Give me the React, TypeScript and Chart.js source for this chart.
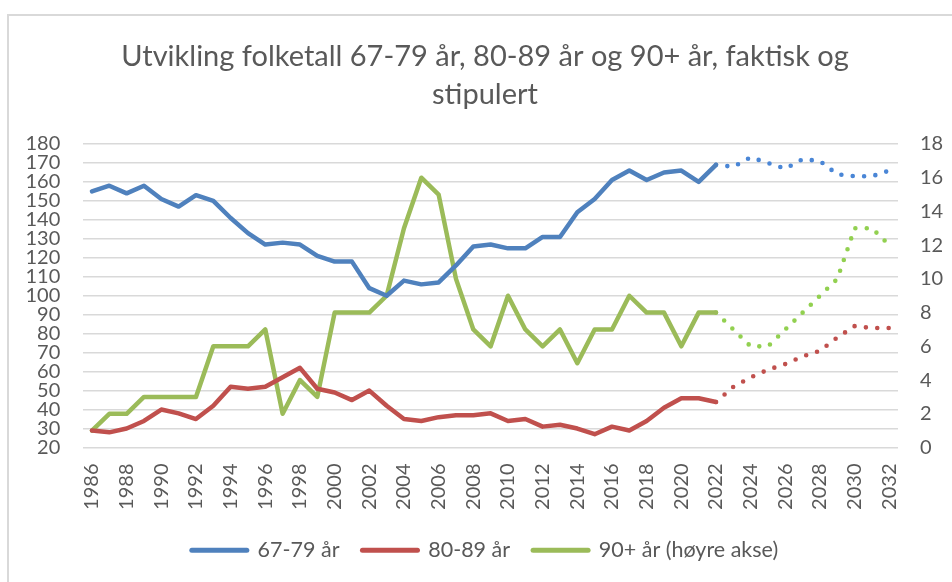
import React, { useEffect, useRef } from "react";
import { Chart, registerables } from "chart.js";

Chart.register(...registerables);

const years = [
  "1986", "1987", "1988", "1989", "1990", "1991", "1992", "1993", "1994", "1995",
  "1996", "1997", "1998", "1999", "2000", "2001", "2002", "2003", "2004", "2005",
  "2006", "2007", "2008", "2009", "2010", "2011", "2012", "2013", "2014", "2015",
  "2016", "2017", "2018", "2019", "2020", "2021", "2022", "2023", "2024", "2025",
  "2026", "2027", "2028", "2029", "2030", "2031", "2032",
];

// Actual values 1986-2022
const age6779 = [
  155, 158, 154, 158, 151, 147, 153, 150, 141, 133,
  127, 128, 127, 121, 118, 118, 104, 100, 108, 106,
  107, 116, 126, 127, 125, 125, 131, 131, 144, 151,
  161, 166, 161, 165, 166, 160, 169,
];
const age8089 = [
  29, 28, 30, 34, 40, 38, 35, 42, 52, 51,
  52, 57, 62, 51, 49, 45, 50, 42, 35, 34,
  36, 37, 37, 38, 34, 35, 31, 32, 30, 27,
  31, 29, 34, 41, 46, 46, 44,
];
const age90 = [
  1, 2, 2, 3, 3, 3, 3, 6, 6, 6,
  7, 2, 4, 3, 8, 8, 8, 9, 13, 16,
  15, 10, 7, 6, 9, 7, 6, 7, 5, 7,
  7, 9, 8, 8, 6, 8, 8,
];

// Projected values 2022-2032
const age6779Proj = [169, 168, 173, 170, 167, 172, 171, 164, 163, 163, 166];
const age8089Proj = [44, 52, 57, 61, 64, 68, 71, 78, 84, 83, 83];
const age90Proj = [8, 7, 6, 6, 7, 8, 9, 10, 13, 13, 12];

const seriesNames = ["67-79 år", "80-89 år", "90+ år (høyre akse)"];
const titleLines = [
  "Utvikling folketall 67-79 år, 80-89 år og 90+ år, faktisk og",
  "stipulert",
];

const FONT = "Lato, 'Open Sans', sans-serif";
const TEXT = "#595959";

export default function App() {
  const ref = useRef<HTMLCanvasElement | null>(null);

  useEffect(() => {
    document.body.style.margin = "0";
    const n = years.length;
    const actual = (arr: number[]) =>
      years.map((_, i) => (i < arr.length ? arr[i] : null));
    const proj = (arr: number[]) => {
      const start = n - arr.length;
      return years.map((_, i) => (i >= start ? arr[i - start] : null));
    };

    const solid = (label: string, data: any[], color: string, axis: string) => ({
      label,
      data,
      borderColor: color,
      backgroundColor: color,
      borderWidth: 4.5,
      pointRadius: 0,
      pointHoverRadius: 0,
      borderCapStyle: "round",
      borderJoinStyle: "round",
      tension: 0,
      yAxisID: axis,
      spanGaps: false,
    });
    const dotted = (label: string, data: any[], color: string, axis: string) => ({
      ...solid(label, data, color, axis),
      borderDash: [0, 11.4],
      borderWidth: 4.6,
    });

    const chart = new Chart(ref.current as HTMLCanvasElement, {
      type: "line",
      data: {
        labels: years,
        datasets: [
          solid(seriesNames[0], actual(age6779), "#4f81bd", "y"),
          solid(seriesNames[1], actual(age8089), "#c0504d", "y"),
          solid(seriesNames[2], actual(age90), "#9bbb59", "y1"),
          dotted("proj1", proj(age6779Proj), "#4a86d6", "y"),
          dotted("proj2", proj(age8089Proj), "#c0504d", "y"),
          dotted("proj3", proj(age90Proj), "#92d050", "y1"),
        ] as any,
      },
      options: {
        responsive: false,
        animation: false,
        layout: { padding: { left: 18, right: 0, top: 0, bottom: 11 } },
        plugins: {
          tooltip: { enabled: false },
          title: {
            display: true,
            text: titleLines,
            color: TEXT,
            font: { family: FONT, size: 29, weight: "normal", lineHeight: 38 / 29 },
            padding: { top: 38, bottom: 30 },
          },
          legend: {
            display: true,
            position: "bottom",
            labels: {
              color: TEXT,
              font: { family: FONT, size: 21.5 },
              usePointStyle: true,
              pointStyleWidth: 55,
              padding: 23,
              filter: (item: any) => item.datasetIndex < 3,
              generateLabels: (c: any) =>
                c.data.datasets.map((ds: any, i: number) => ({
                  text: ds.label,
                  fillStyle: ds.borderColor,
                  strokeStyle: ds.borderColor,
                  lineWidth: 5,
                  lineCap: "round",
                  pointStyle: "line",
                  hidden: false,
                  datasetIndex: i,
                  fontColor: TEXT,
                })),
            },
          },
        },
        scales: {
          x: {
            type: "category",
            offset: true,
            grid: { display: false, drawTicks: false },
            border: { display: false },
            afterFit: (s: any) => {
              s.height = 69;
            },
            ticks: {
              autoSkip: false,
              minRotation: 90,
              maxRotation: 90,
              padding: 16,
              color: TEXT,
              font: { family: FONT, size: 20 },
              callback: (_v: any, i: number) => (i % 2 === 0 ? years[i] : ""),
            },
          },
          y: {
            position: "left",
            min: 20,
            max: 180,
            afterFit: (s: any) => {
              s.width = 65.3;
            },
            grid: { color: "#d9d9d9", lineWidth: 1.5, drawTicks: false },
            border: { display: false },
            ticks: {
              stepSize: 10,
              autoSkip: false,
              padding: 23,
              color: TEXT,
              font: { family: FONT, size: 20 },
            },
          },
          y1: {
            position: "right",
            min: 0,
            max: 18,
            afterFit: (s: any) => {
              s.width = 54;
            },
            grid: { display: false, drawTicks: false },
            border: { display: false },
            ticks: {
              stepSize: 2,
              autoSkip: false,
              padding: 22,
              color: TEXT,
              font: { family: FONT, size: 20 },
            },
          },
        },
      } as any,
    });
    return () => chart.destroy();
  }, []);

  return (
    <div
      style={{
        position: "relative",
        width: 952,
        height: 582,
        overflow: "hidden",
        background: "#ffffff",
      }}
    >
      <div
        style={{
          position: "absolute",
          left: 7,
          top: 14,
          width: 1000,
          height: 1000,
          borderLeft: "2px solid #d9d9d9",
          borderTop: "2px solid #d9d9d9",
        }}
      />
      <canvas
        ref={ref}
        width={952}
        height={582}
        style={{ position: "absolute", left: 0, top: 0 }}
      />
    </div>
  );
}
